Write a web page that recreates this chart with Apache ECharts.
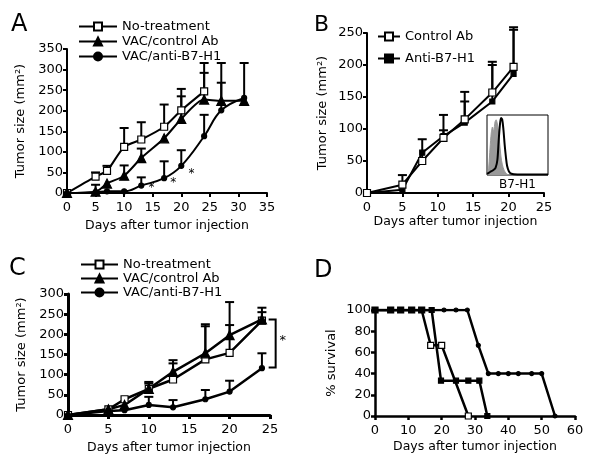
<!DOCTYPE html>
<html>
<head>
<meta charset="utf-8">
<script src="https://cdn.jsdelivr.net/npm/echarts@6/dist/echarts.min.js"></script>
<style>
  html, body { margin: 0; padding: 0; background: #fff; }
  #chart { width: 600px; height: 464px; }
</style>
</head>
<body>
<div id="chart"></div>
<script>
// panel A
var aDays = [0, 5, 7, 10, 13, 17, 20, 24, 27, 31];
var aNoTreat = [0, 40, 54, 112, 130, 161, 201, 247];
var aNoTreatErr = [null, 50, 66, 158, 172, 215, 253, 316];
var aControl = [0, 3, 23, 42, 85, 133, 180, 227, 224, 224];
var aControlErr = [null, 20, null, 67, 108, null, 235, 292, 316, null];
var aAnti = [0, 2, 4, 4, 18, 36, 66, 138, 201, 231];
var aAntiErr = [null, null, null, null, 38, 77, 104, 190, 268, 316];
var aStars = [[14.8, 12], [18.6, 24], [21.8, 47]];

// panel B
var bDays = [0, 5, 7.8, 10.8, 13.8, 17.7, 20.7];
var bControl = [0, 13, 50, 86, 115, 157, 197];
var bControlErr = [null, 28, 84, 122, 158, 205, 259];
var bAnti = [0, 5, 63, 89, 110, 143, 186];
var bAntiErr = [null, null, null, 98, 143, 200, 255];
// inset histogram (B7-H1 staining)
var insetIsotype = [[1, 0], [3, 15], [5, 45], [7, 70], [9, 80], [11, 72], [13, 88], [15, 92], [17, 85], [19, 70], [21, 50], [23, 30], [25, 18], [28, 8], [32, 2], [36, 0]];
var insetStain = [[0, 2], [5, 5], [10, 8], [14, 12], [17, 25], [19, 55], [21, 82], [23, 95], [25, 92], [27, 75], [29, 50], [31, 30], [33, 15], [36, 6], [40, 2], [50, 1], [100, 1]];

// panel C
var cDays = [0, 5, 7, 10, 13, 17, 20, 24];
var cNoTreat = [0, 14, 39, 65, 88, 138, 154, 234];
var cNoTreatErr = [null, null, null, 78, 128, 220, 223, 255];
var cControl = [0, 14, 25, 65, 107, 153, 198, 237];
var cControlErr = [null, null, null, 82, 136, 225, 280, 266];
var cAnti = [0, 10, 12, 25, 19, 39, 58, 116];
var cAntiErr = [null, null, null, 45, 37, 62, 85, 153];
var cBracket = [[25.7, 237, 118]];

// panel D (survival)
var dNoTreatDays = [0, 4.7, 7.7, 11, 14, 16.7, 20, 28];
var dNoTreat = [100, 100, 100, 100, 100, 66.7, 66.7, 0];
var dControlDays = [0, 4.7, 7.7, 11, 14, 17, 19.8, 24.3, 28, 31.3, 33.7];
var dControl = [100, 100, 100, 100, 100, 100, 33.3, 33.3, 33.3, 33.3, 0];
var dAntiDays = [0, 4.7, 7.7, 11, 14, 17, 20.7, 24.3, 27.7, 31, 34, 37, 40, 43, 47, 50, 54];
var dAnti = [100, 100, 100, 100, 100, 100, 100, 100, 100, 66.7, 40, 40, 40, 40, 40, 40, 0];

var FONT = 'DejaVu Sans';

function pairs(xs, ys) {
  var out = [];
  for (var i = 0; i < ys.length; i++) out.push([xs[i], ys[i]]);
  return out;
}
function errData(xs, ys, tops) {
  var out = [];
  for (var i = 0; i < tops.length; i++) {
    if (tops[i] != null) out.push([xs[i], ys[i], tops[i]]);
  }
  return out;
}

function renderErr(params, api) {
  var p0 = api.coord([api.value(0), api.value(1)]);
  var p1 = api.coord([api.value(0), api.value(2)]);
  var st = { stroke: '#000', lineWidth: 2 };
  return {
    type: 'group',
    children: [
      { type: 'line', shape: { x1: p0[0], y1: p0[1], x2: p1[0], y2: p1[1] }, style: st },
      { type: 'line', shape: { x1: p1[0] - 4.5, y1: p1[1], x2: p1[0] + 4.5, y2: p1[1] }, style: st }
    ]
  };
}
function renderStar(params, api) {
  var p = api.coord([api.value(0), api.value(1)]);
  return { type: 'text', style: { text: '*', x: p[0], y: p[1], fontSize: 12, fontFamily: FONT, fill: '#000', align: 'center', verticalAlign: 'middle' } };
}
function renderBracket(params, api) {
  var p0 = api.coord([api.value(0), api.value(1)]);
  var p1 = api.coord([api.value(0), api.value(2)]);
  var st = { stroke: '#000', lineWidth: 2, fill: null };
  return {
    type: 'group',
    children: [
      { type: 'polyline', shape: { points: [[p0[0] - 7, p0[1]], [p0[0], p0[1]], [p1[0], p1[1]], [p1[0] - 7, p1[1]]] }, style: st },
      { type: 'text', style: { text: '*', x: p0[0] + 7, y: (p0[1] + p1[1]) / 2 - 3, fontSize: 13, fontFamily: FONT, fill: '#000', align: 'center', verticalAlign: 'middle' } }
    ]
  };
}

function xAx(grid, max, interval, lw, gap) {
  return {
    type: 'value', gridIndex: grid, min: 0, max: max, interval: interval,
    name: 'Days after tumor injection', nameLocation: 'middle', nameGap: gap,
    nameTextStyle: { color: '#000', fontSize: 12.5, fontFamily: FONT },
    axisLine: { onZero: false, lineStyle: { color: '#000', width: lw } },
    axisTick: { length: 4, lineStyle: { color: '#000', width: lw } },
    axisLabel: { color: '#000', fontSize: 13, fontFamily: FONT, margin: 8 },
    splitLine: { show: false }
  };
}
function yAx(grid, max, interval, name, lw, gap) {
  return {
    type: 'value', gridIndex: grid, min: 0, max: max, interval: interval,
    name: name, nameLocation: 'middle', nameGap: gap,
    nameTextStyle: { color: '#000', fontSize: 13, fontFamily: FONT },
    axisLine: { lineStyle: { color: '#000', width: lw } },
    axisTick: { length: 4, lineStyle: { color: '#000', width: lw } },
    axisLabel: { color: '#000', fontSize: 13, fontFamily: FONT, margin: 4 },
    splitLine: { show: false }
  };
}

function lineSeries(name, xi, data, symbol, size, fill, smooth, lw) {
  return {
    name: name, type: 'line', xAxisIndex: xi, yAxisIndex: xi,
    data: data, symbol: symbol, symbolSize: size, smooth: smooth,
    showSymbol: true, z: 3,
    lineStyle: { color: '#000', width: lw },
    itemStyle: { color: fill, borderColor: '#000', borderWidth: 1.2 },
    emphasis: { disabled: true }
  };
}
function errSeries(xi, data) {
  return { type: 'custom', xAxisIndex: xi, yAxisIndex: xi, data: data, renderItem: renderErr, z: 2, silent: true };
}

var legendText = { color: '#000', fontSize: 13, fontFamily: FONT };

var option = {
  backgroundColor: '#fff',
  animation: false,
  grid: [
    { left: 67, top: 49, width: 200, height: 144 },
    { left: 367, top: 33, width: 177, height: 160 },
    { left: 68, top: 294, width: 202, height: 121 },
    { left: 375, top: 310, width: 200, height: 106 },
    { left: 487, top: 115, width: 61, height: 60, show: true, borderColor: '#000', borderWidth: 1, backgroundColor: '#fff', z: 5 }
  ],
  xAxis: [
    xAx(0, 35, 5, 2, 26),
    xAx(1, 25, 5, 2, 21),
    xAx(2, 25, 5, 3, 26),
    xAx(3, 60, 10, 2.5, 24),
    {
      type: 'value', gridIndex: 4, min: 0, max: 100,
      name: 'B7-H1', nameLocation: 'middle', nameGap: 4,
      nameTextStyle: { color: '#000', fontSize: 12, fontFamily: FONT },
      axisLine: { show: false }, axisTick: { show: false }, axisLabel: { show: false }, splitLine: { show: false }
    }
  ],
  yAxis: [
    yAx(0, 350, 50, 'Tumor size (mm\u00b2)', 2, 40),
    yAx(1, 250, 50, 'Tumor size (mm\u00b2)', 2, 38),
    yAx(2, 300, 50, 'Tumor size (mm\u00b2)', 3, 40),
    yAx(3, 100, 20, '% survival', 2.5, 37),
    {
      type: 'value', gridIndex: 4, min: 0, max: 100,
      axisLine: { show: false }, axisTick: { show: false }, axisLabel: { show: false }, splitLine: { show: false }
    }
  ],
  legend: [
    {
      left: 73, top: 15, orient: 'vertical', itemWidth: 38, itemHeight: 10, itemGap: 2,
      textStyle: legendText, selectedMode: false,
      data: ['No-treatment', 'VAC/control Ab', 'VAC/anti-B7-H1']
    },
    {
      left: 372, top: 25, orient: 'vertical', itemWidth: 22, itemHeight: 10, itemGap: 9,
      textStyle: legendText, selectedMode: false,
      data: ['Control Ab', 'Anti-B7-H1']
    },
    {
      left: 75, top: 253, orient: 'vertical', itemWidth: 37, itemHeight: 10, itemGap: 1,
      textStyle: legendText, selectedMode: false,
      data: ['No-treatment', 'VAC/control Ab', 'VAC/anti-B7-H1']
    }
  ],
  graphic: [
    { type: 'text', left: 11, top: 13, style: { text: 'A', fontSize: 24, fontFamily: FONT, fill: '#000' } },
    { type: 'text', left: 314, top: 14, style: { text: 'B', fontSize: 22, fontFamily: FONT, fill: '#000' } },
    { type: 'text', left: 9, top: 257, style: { text: 'C', fontSize: 24, fontFamily: FONT, fill: '#000' } },
    { type: 'text', left: 314, top: 259, style: { text: 'D', fontSize: 24, fontFamily: FONT, fill: '#000' } }
  ],
  series: [
    // A
    errSeries(0, errData(aDays, aNoTreat, aNoTreatErr)),
    errSeries(0, errData(aDays, aControl, aControlErr)),
    errSeries(0, errData(aDays, aAnti, aAntiErr)),
    lineSeries('No-treatment', 0, pairs(aDays, aNoTreat), 'rect', 7, '#fff', 0.25, 2),
    lineSeries('VAC/control Ab', 0, pairs(aDays, aControl), 'triangle', 9, '#000', 0.25, 2),
    lineSeries('VAC/anti-B7-H1', 0, pairs(aDays, aAnti), 'circle', 5, '#000', 0.4, 2),
    { type: 'custom', xAxisIndex: 0, yAxisIndex: 0, data: aStars, renderItem: renderStar, silent: true },
    // B
    errSeries(1, errData(bDays, bControl, bControlErr)),
    errSeries(1, errData(bDays, bAnti, bAntiErr)),
    lineSeries('Anti-B7-H1', 1, pairs(bDays, bAnti), 'rect', 5, '#000', false, 2),
    lineSeries('Control Ab', 1, pairs(bDays, bControl), 'rect', 7, '#fff', false, 2),
    // B inset
    {
      type: 'line', xAxisIndex: 4, yAxisIndex: 4, data: insetIsotype, symbol: 'none', smooth: 0.3, z: 6,
      lineStyle: { color: '#999', width: 1 }, areaStyle: { color: '#999', opacity: 1 }
    },
    {
      type: 'line', xAxisIndex: 4, yAxisIndex: 4, data: insetStain, symbol: 'none', smooth: 0.3, z: 7,
      lineStyle: { color: '#000', width: 2 }
    },
    // C
    errSeries(2, errData(cDays, cNoTreat, cNoTreatErr)),
    errSeries(2, errData(cDays, cControl, cControlErr)),
    errSeries(2, errData(cDays, cAnti, cAntiErr)),
    lineSeries('No-treatment', 2, pairs(cDays, cNoTreat), 'rect', 7, '#fff', false, 2.5),
    lineSeries('VAC/control Ab', 2, pairs(cDays, cControl), 'triangle', 9, '#000', false, 2.5),
    lineSeries('VAC/anti-B7-H1', 2, pairs(cDays, cAnti), 'circle', 5, '#000', false, 2.5),
    { type: 'custom', xAxisIndex: 2, yAxisIndex: 2, data: cBracket, renderItem: renderBracket, silent: true },
    // D
    lineSeries('survNo', 3, pairs(dNoTreatDays, dNoTreat), 'rect', 6, '#fff', false, 2.5),
    lineSeries('survControl', 3, pairs(dControlDays, dControl), 'rect', 5, '#000', false, 2.5),
    lineSeries('survAnti', 3, pairs(dAntiDays, dAnti), 'circle', 4, '#000', false, 2.5)
  ]
};

var chart = echarts.init(document.getElementById('chart'), null, { renderer: 'canvas' });
chart.setOption(option);
</script>
</body>
</html>
